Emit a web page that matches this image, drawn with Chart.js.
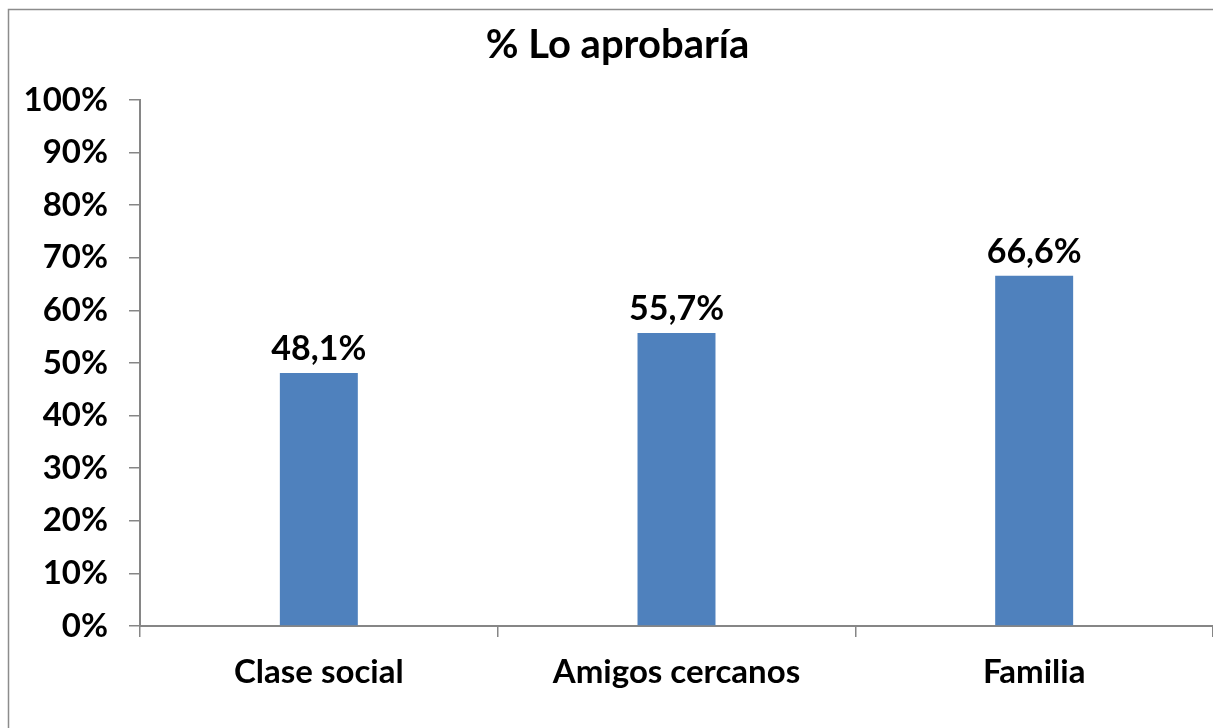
<!DOCTYPE html>
<html><head><meta charset="utf-8">
<script src="https://cdn.jsdelivr.net/npm/chart.js@4.4.1/dist/chart.umd.min.js"></script>
<style>html,body{margin:0;padding:0;background:#fff}#wrap{width:1213px;height:728px;position:relative}</style>
</head><body><div id="wrap"><canvas id="c" width="1213" height="728"></canvas></div>
<script>
const categories = ['Clase social', 'Amigos cercanos', 'Familia'];
const values = [48.1, 55.7, 66.6];
const valueLabels = ['48,1%', '55,7%', '66,6%'];
const titleText = '% Lo aprobaría';
const FONT = 'Lato';
const frame = {
  id: 'frame',
  beforeDraw(chart) {
    const ctx = chart.ctx; ctx.save();
    ctx.fillStyle = '#fff'; ctx.fillRect(0, 0, chart.width, chart.height);
    ctx.strokeStyle = '#8c8c8c'; ctx.lineWidth = 1.5;
    ctx.strokeRect(8.5, 9.5, 1400, 900);
    ctx.restore();
  }
};
const barLabels = {
  id: 'barLabels',
  afterDatasetsDraw(chart) {
    const ctx = chart.ctx; ctx.save();
    ctx.font = 'bold 34px ' + FONT; ctx.fillStyle = '#000';
    ctx.textAlign = 'center'; ctx.textBaseline = 'bottom';
    chart.getDatasetMeta(0).data.forEach((b, i) => {
      ctx.fillText(valueLabels[i], b.x, b.y - 7);
    });
    ctx.restore();
  }
};
new Chart(document.getElementById('c'), {
  type: 'bar',
  data: { labels: categories, datasets: [{ data: values, backgroundColor: '#4F81BD', categoryPercentage: 1, barPercentage: 0.218 }] },
  options: {
    responsive: false, animation: false,
    layout: { padding: { left: 22, right: 0, top: 0, bottom: 38 } },
    plugins: {
      legend: { display: false }, tooltip: { enabled: false },
      title: { display: true, text: titleText, color: '#000', font: { family: FONT, size: 40, weight: 'bold', lineHeight: 1.2 }, padding: { top: 21, bottom: 31 } }
    },
    scales: {
      y: {
        min: 0, max: 100,
        afterFit(s) { s.width = 118; },
        ticks: { stepSize: 10, callback: v => v + '%', color: '#000', padding: 21, font: { family: FONT, size: 33, weight: 'bold' } },
        grid: { drawOnChartArea: false, tickLength: 11, color: '#868686', lineWidth: 1.5 },
        border: { color: '#868686', width: 2 }
      },
      x: {
        afterFit(s) { s.height = 64; },
        ticks: { color: '#000', padding: 16, font: { family: FONT, size: 33, weight: 'bold', lineHeight: 1.2 } },
        grid: { drawOnChartArea: false, offset: true, tickLength: 11, color: '#868686', lineWidth: 1.5 },
        border: { color: '#868686', width: 2 }
      }
    }
  },
  plugins: [frame, barLabels]
});
</script></body></html>
